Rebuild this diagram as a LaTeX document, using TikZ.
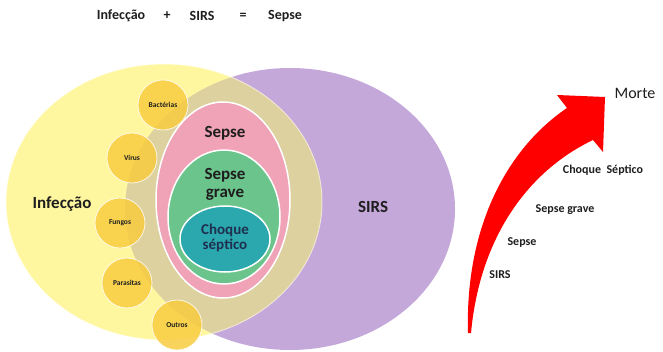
\documentclass[tikz,border=0pt]{standalone}
\usepackage{fontspec}
\setmainfont{Carlito}
\definecolor{infy}{HTML}{FFF7A0}
\definecolor{sirsp}{HTML}{C5A8DA}
\definecolor{tanov}{HTML}{DDD1A0}
\definecolor{sepk}{HTML}{F0A2B6}
\definecolor{grvg}{HTML}{6BC48C}
\definecolor{chqt}{HTML}{2AA8AE}
\definecolor{gold}{HTML}{F8CC40}
\definecolor{txtd}{HTML}{1E1E1E}
\definecolor{txtn}{HTML}{1F2F4F}
\begin{document}
\begin{tikzpicture}[x=1pt,y=-1pt,
  bubble/.style={circle,minimum size=50pt,inner sep=0pt,fill=gold,fill opacity=0.85,text opacity=1,draw=white,draw opacity=0.8,line width=0.8pt,font=\bfseries\fontsize{7.5}{8}\selectfont,text=txtd},
  title/.style={font=\bfseries\fontsize{14}{16}\selectfont,text=txtd,inner sep=0pt},
  biglab/.style={font=\bfseries\fontsize{17}{18}\selectfont,text=txtd,align=center,inner sep=0pt},
  steplab/.style={font=\bfseries\fontsize{12}{14}\selectfont,text=txtd,inner sep=0pt}]
\useasboundingbox (0,0) rectangle (663,352);
% top equation
\node[title] (t1) at (121,16) {Infecção};
\node[title] (t2) at (167,16) {+};
\node[title] (t3) at (202,16) {SIRS};
\node[title] (t4) at (243,16) {=};
\node[title] (t5) at (285,16) {Sepse};
% big ellipses
\fill[sirsp] (290,209) ellipse [x radius=165, y radius=141];
\fill[infy] (164,202) ellipse [x radius=158, y radius=138];
\begin{scope}
  \clip (290,209) ellipse [x radius=165, y radius=141];
  \fill[tanov] (164,202) ellipse [x radius=158, y radius=138];
\end{scope}
\draw[white,opacity=0.5,line width=1pt] (164,202) ellipse [x radius=158, y radius=138];
% nested ellipses
\filldraw[fill=sepk,draw=white,line width=1.5pt] (223,200) ellipse [x radius=67, y radius=98];
\filldraw[fill=grvg,draw=white,line width=1.5pt] (224,217) ellipse [x radius=56, y radius=67];
\filldraw[fill=chqt,draw=white,line width=1.5pt] (225,239) ellipse [x radius=45, y radius=33];
\node[biglab] (sep) at (225,133) {Sepse};
\node[biglab] (grv) at (225,184) {Sepse\\grave};
\node[biglab,text=txtn,font=\bfseries\fontsize{15}{15}\selectfont] (chq) at (225,238) {Choque\\séptico};
\node[biglab] (inf) at (62,204) {Infecção};
\node[biglab] (sirs) at (373,207) {SIRS};
% bubbles
\node[bubble] (b1) at (163,105) {Bactérias};
\node[bubble] (b2) at (132,158) {Vírus};
\node[bubble] (b3) at (120,223) {Fungos};
\node[bubble] (b4) at (127,283) {Parasitas};
\node[bubble] (b5) at (177,325) {Outros};
% red arrow
\fill[red] (468,333) .. controls (465,230) and (505,150) .. (567,108)
  -- (557,95) -- (605,97) -- (603,152) -- (593,140)
  .. controls (530,170) and (480,235) .. (471,333) -- cycle;
\node[font=\fontsize{16}{18}\selectfont,text=txtd,inner sep=0pt] (mor) at (635,93) {Morte};
\node[steplab] (s4) at (603,170) {Choque\ \ Séptico};
\node[steplab] (s3) at (565,210) {Sepse grave};
\node[steplab] (s2) at (522,243) {Sepse};
\node[steplab] (s1) at (500,275) {SIRS};
\end{tikzpicture}
\end{document}
